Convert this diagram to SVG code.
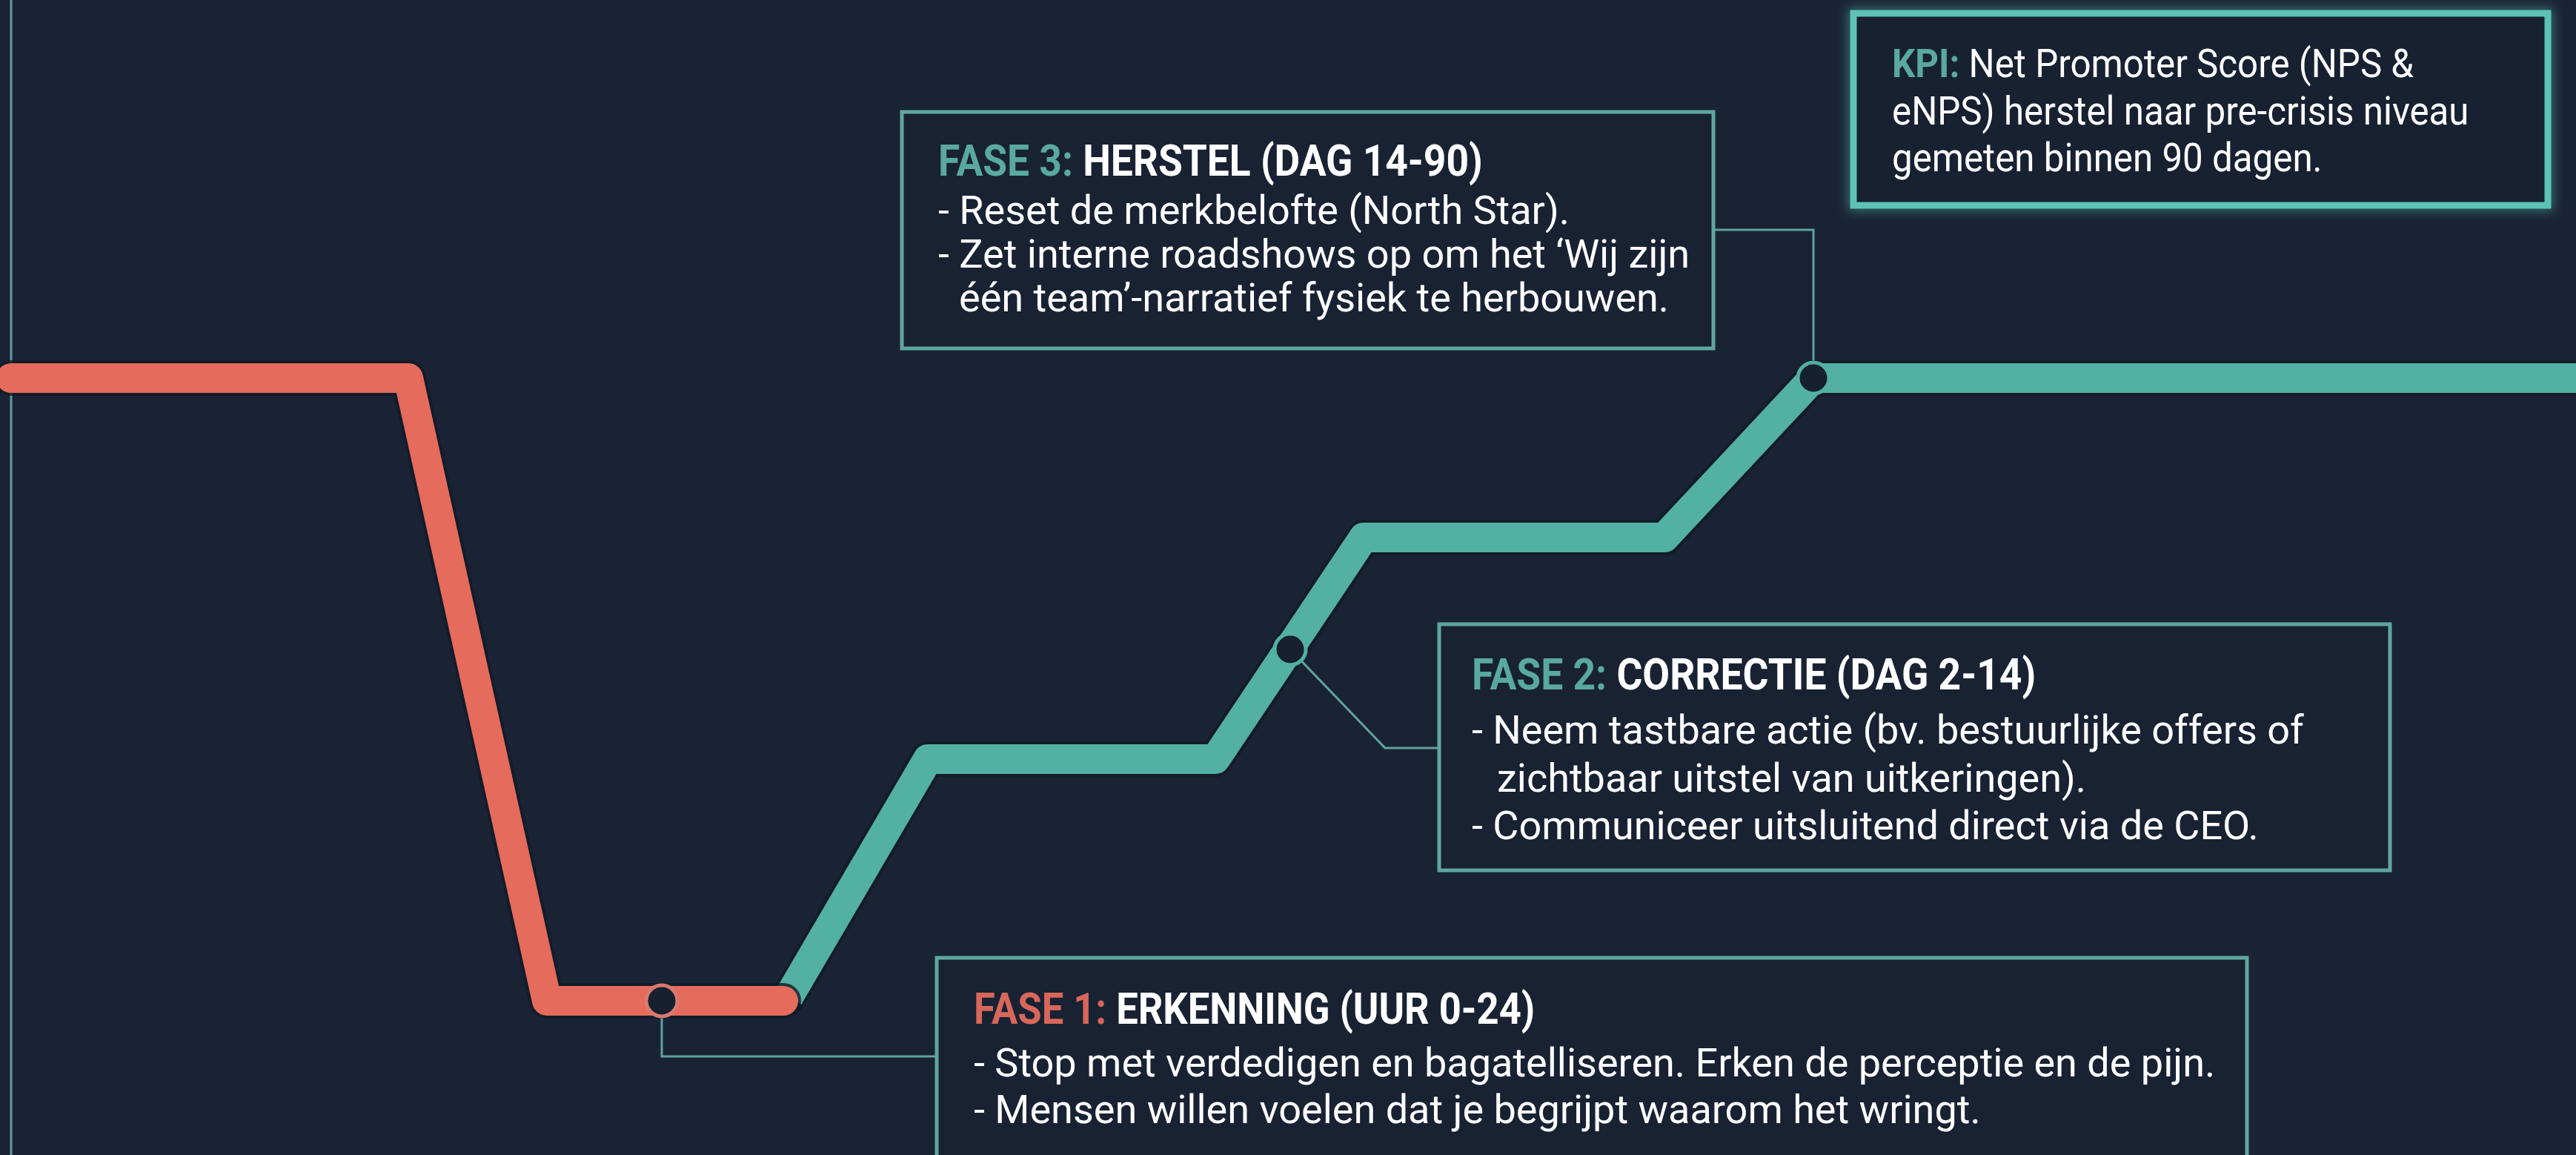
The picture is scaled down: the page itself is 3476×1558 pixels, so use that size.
<svg xmlns="http://www.w3.org/2000/svg" width="3476" height="1558" viewBox="0 0 3476 1558">
<defs>
<style>
.bg{fill:#1a2335}
.box{fill:#182233;stroke:#5fa7a1;stroke-width:5}
.kpi{fill:#172131;stroke:#5cc3b6;stroke-width:9}
.lead{fill:none;stroke:#5fa3a0;stroke-width:3}
.t{font-family:Roboto,"Liberation Sans",sans-serif;font-size:54px;fill:#ffffff}
.k{font-family:Roboto,"Liberation Sans",sans-serif;font-size:53px;fill:#ffffff}
.h{font-family:Roboto,"Liberation Sans",sans-serif;font-size:59px;font-weight:bold;fill:#ffffff}
.b{font-weight:bold}
.teal{fill:#5aa9a0}
.red{fill:#d8675b}
.dot{fill:#16202f;stroke-width:5}
.shadow{fill:none;stroke:#111a27;stroke-width:48;stroke-linejoin:round;stroke-linecap:round;opacity:0.8}
</style>
<filter id="glow" x="-10%" y="-20%" width="120%" height="140%">
<feGaussianBlur stdDeviation="8"/>
</filter>
</defs>
<rect class="bg" x="0" y="0" width="3476" height="1558"/>
<line x1="15" y1="0" x2="15" y2="1558" stroke="#5e9ea0" stroke-width="3"/>

<g id="connectors">
<path class="lead" d="M893,1372 V1425 H1264"/>
<path class="lead" d="M1741,876 L1869,1009 H1942"/>
<path class="lead" d="M2447,488 V310 H2312"/>
<path class="shadow" d="M1064,1345 L1252,1024 L1640,1024 L1840,725 L2246,725 L2447,510 L3490,510"/>
<path d="M1064,1345 L1252,1024 L1640,1024 L1840,725 L2246,725 L2447,510 L3490,510" fill="none" stroke="#52b0a4" stroke-width="40" stroke-linejoin="round"/>
<path class="shadow" d="M15,510 L551,510 L738,1350 L1057,1350"/>
<path d="M15,510 L551,510 L738,1350 L1057,1350" fill="none" stroke="#e56b5c" stroke-width="40" stroke-linejoin="round" stroke-linecap="round"/>
</g>

<g id="markers">
<circle class="dot" cx="893" cy="1350" r="21" stroke="#d97a6e"/>
<circle class="dot" cx="1741" cy="876" r="21" stroke="#52b0a4"/>
<circle class="dot" cx="2447" cy="510" r="21" stroke="#52b0a4"/>
</g>

<g id="kpi">
<rect x="2501" y="18" width="937" height="259" fill="none" stroke="#5cc3b6" stroke-width="14" opacity="0.5" filter="url(#glow)"/>
<rect class="kpi" x="2501" y="18" width="937" height="259"/>
<g transform="translate(2553,0) scale(0.93,1)">
<text class="k" x="0" y="104"><tspan class="b teal">KPI:</tspan> Net Promoter Score (NPS &amp;</text>
<text class="k" x="0" y="168">eNPS) herstel naar pre-crisis niveau</text>
<text class="k" x="0" y="231">gemeten binnen 90 dagen.</text>
</g>
</g>

<g id="fase3">
<rect class="box" x="1217" y="151" width="1095" height="319"/>
<text class="h" transform="translate(1266,237) scale(0.904,1)"><tspan class="teal">FASE 3:</tspan> HERSTEL (DAG 14-90)</text>
<text class="t" x="1266" y="302">- Reset de merkbelofte (North Star).</text>
<text class="t" x="1266" y="361">- Zet interne roadshows op om het ‘Wij zijn</text>
<text class="t" x="1294" y="420">één team’-narratief fysiek te herbouwen.</text>
</g>

<g id="fase2">
<rect class="box" x="1942" y="842" width="1283" height="332"/>
<text class="h" transform="translate(1986,930) scale(0.905,1)"><tspan class="teal">FASE 2:</tspan> CORRECTIE (DAG 2-14)</text>
<text class="t" x="1986" y="1003">- Neem tastbare actie (bv. bestuurlijke offers of</text>
<text class="t" x="2020" y="1068">zichtbaar uitstel van uitkeringen).</text>
<text class="t" x="1986" y="1132">- Communiceer uitsluitend direct via de CEO.</text>
</g>

<g id="fase1">
<rect class="box" x="1264" y="1292" width="1768" height="300"/>
<text class="h" transform="translate(1314,1381) scale(0.89,1)"><tspan class="red">FASE 1:</tspan> ERKENNING (UUR 0-24)</text>
<text class="t" x="1314" y="1452">- Stop met verdedigen en bagatelliseren. Erken de perceptie en de pijn.</text>
<text class="t" x="1314" y="1515">- Mensen willen voelen dat je begrijpt waarom het wringt.</text>
</g>
</svg>
